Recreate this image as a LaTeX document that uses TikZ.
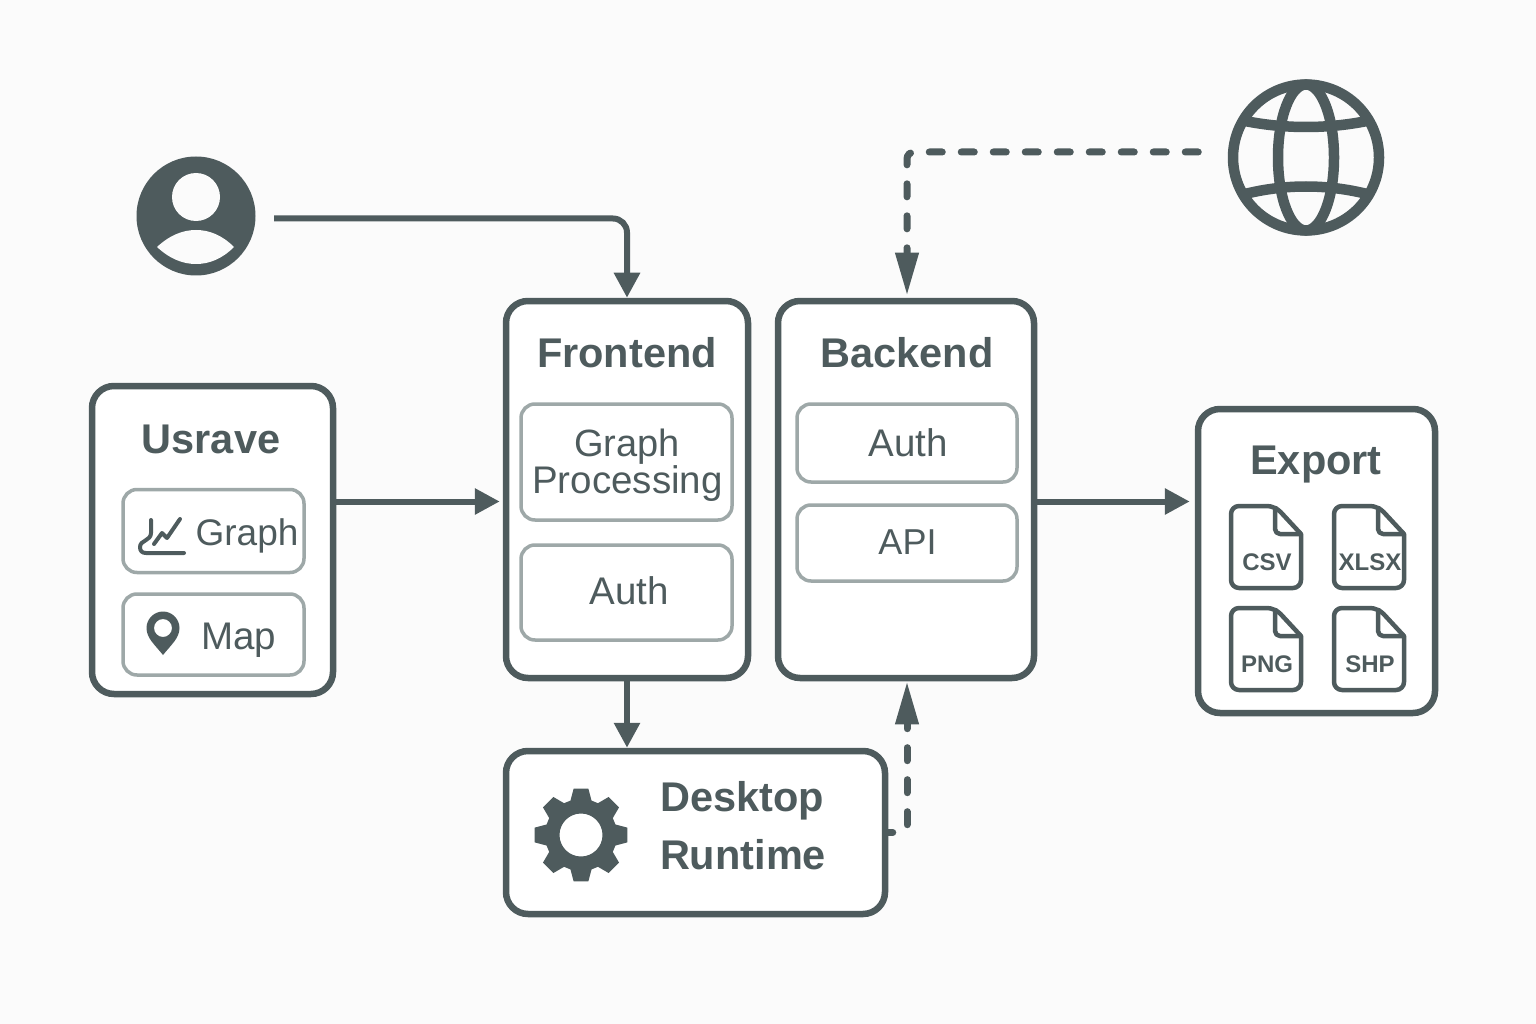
\documentclass[tikz,border=0pt]{standalone}
\usepackage{fontspec}
\setmainfont{Liberation Sans}
\usetikzlibrary{arrows.meta,calc}
\definecolor{slate}{HTML}{4E5B5D}
\definecolor{ash}{HTML}{9EA8A8}
\definecolor{paper}{HTML}{FBFBFB}
\tikzset{
  panel/.style={draw=slate,line width=6.5pt,fill=white,rounded corners=22pt,inner sep=0pt},
  subbox/.style={draw=ash,line width=3.5pt,fill=white,rounded corners=14pt,inner sep=0pt},
  flow/.style={draw=slate,line width=6pt,-{Triangle[length=25pt,width=25pt]},rounded corners=14pt},
  dashflow/.style={draw=slate,line width=7pt,line cap=round,dash pattern=on 13pt off 19pt,
    -{Triangle[length=43pt,width=22pt,line cap=butt]},rounded corners=7pt},
  headtxt/.style={anchor=base,text=slate,font=\fontsize{41.5}{41.5}\selectfont\bfseries},
  boxtxt/.style={anchor=base,text=slate,font=\fontsize{38.5}{38.5}\selectfont},
  filetxt/.style={anchor=base,text=slate,font=\fontsize{24}{24}\selectfont\bfseries},
}
\begin{document}
\begin{tikzpicture}[x=1pt,y=-1pt]
  \useasboundingbox[fill=paper] (0,0) rectangle (1536,1024);

  \node[panel,minimum width=241pt,minimum height=308pt] (usrave) at (212.5,540) {};
  \node[panel,minimum width=242pt,minimum height=377pt] (frontend) at (627,489.5) {};
  \node[panel,minimum width=256pt,minimum height=377pt] (backend) at (906,489.5) {};
  \node[panel,minimum width=237pt,minimum height=304pt] (export) at (1316.5,561) {};
  \node[panel,minimum width=379pt,minimum height=163pt] (desktop) at (695.5,832.5) {};

  \node[subbox,minimum width=181pt,minimum height=83pt] (graphbox) at (213.5,531) {};
  \node[subbox,minimum width=181pt,minimum height=81pt] (mapbox) at (213.5,634.5) {};
  \node[subbox,minimum width=211pt,minimum height=116pt] (procbox) at (626.5,462) {};
  \node[subbox,minimum width=211pt,minimum height=95pt] (fauthbox) at (626.5,592.5) {};
  \node[subbox,minimum width=220pt,minimum height=78pt] (bauthbox) at (907,443) {};
  \node[subbox,minimum width=220pt,minimum height=76pt] (apibox) at (907,543) {};

  \node[headtxt] (usravetxt) at (211,453) {Usrave};
  \node[headtxt] (frontendtxt) at (627,367.5) {Frontend};
  \node[headtxt] (backendtxt) at (907,367.5) {Backend};
  \node[headtxt] (exporttxt) at (1316,474) {Export};
  \node[headtxt] (desktoptxt) at (742,811.5) {Desktop};
  \node[headtxt] (runtimetxt) at (743,869) {Runtime};

  \node[boxtxt,font=\fontsize{37}{37}\selectfont] (graphtxt) at (247,545.5) {Graph};
  \node[boxtxt] (maptxt) at (238.5,649.5) {Map};
  \node[boxtxt,font=\fontsize{38}{38}\selectfont] (proctxta) at (627,456.5) {Graph};
  \node[boxtxt] (proctxtb) at (627.5,493) {Processing};
  \node[boxtxt] (fauthtxt) at (629,604) {Auth};
  \node[boxtxt] (bauthtxt) at (908,456.5) {Auth};
  \node[boxtxt,font=\fontsize{36}{36}\selectfont] (apitxt) at (907.5,554.5) {API};

  % chart and pin
  \draw[slate,line width=4pt,line cap=round,line join=round]
    (151,520) -- (151,533) .. controls (151,541) and (140,540) .. (140,547)
    .. controls (140,551) and (142,553) .. (146,553) -- (184,553);
  \draw[slate,line width=4pt,line cap=round,line join=round]
    (154,544) -- (162,533) -- (167,538) -- (180,519);
  \fill[slate,even odd rule] (146.5,628) .. controls (146.5,619) and (154,611.5) .. (163,611.5)
    .. controls (172,611.5) and (179.5,619) .. (179.5,628)
    .. controls (179.5,638) and (171,645) .. (163,655)
    .. controls (155,645) and (146.5,638) .. (146.5,628) -- cycle
    (163,628) circle (9);

  % gear
  \begin{scope}[shift={(581,835)}]
    \fill[slate,even odd rule] (-17:36)
      \foreach \a in {0,45,...,315}{ -- (\a-17:36) -- (\a-9:47) -- (\a+9:47) -- (\a+17:36)}
      -- cycle (0,0) circle (21.5);
  \end{scope}

  % files
  \foreach \fx/\fy/\lab in {1229/504/CSV,1332/504/XLSX,1229/606/PNG,1332/606/SHP}{
    \begin{scope}[shift={(\fx,\fy)}]
      \draw[slate,line width=4.5pt,fill=white,line join=round,rounded corners=8pt]
        (2,2) -- (46,2) [sharp corners] -- (72,30) [rounded corners=8pt] -- (72,84) -- (2,84) -- cycle;
      \draw[slate,line width=4.5pt,line join=round,rounded corners=5pt] (46,2) -- (46,30) -- (72,30);
      \node[filetxt] (file\lab) at (38,66) {\lab};
    \end{scope}
  }

  % user
  \node[circle,fill=slate,minimum size=119pt,inner sep=0pt] (user) at (196,216) {};
  \fill[paper] (196,197) circle (24);
  \fill[paper] (157,247) .. controls (170,235) and (183,230) .. (196,230)
    .. controls (209,230) and (222,235) .. (234,247)
    .. controls (222,259) and (209,264) .. (196,264)
    .. controls (183,264) and (170,259) .. (157,247) -- cycle;

  % globe
  \node[circle,draw=slate,line width=10.5pt,minimum size=146pt,inner sep=0pt] (globe) at (1306,157.5) {};
  \draw[slate,line width=10.5pt] (globe.center) ellipse (28 and 73);
  \draw[slate,line width=10.5pt] (1245,121) .. controls (1285,129) and (1327,129) .. (1367,121);
  \draw[slate,line width=10.5pt] (1245,194) .. controls (1285,184) and (1327,184) .. (1367,194);

  \draw[flow] ([shift={(18.5pt,-2.5pt)}]user.east) -| (frontend.north);
  \draw[dashflow,shorten >=2pt] ([shift={(-29.5pt,5.5pt)}]globe.west) -| ([xshift=1pt]backend.north);
  \draw[flow,shorten >=3pt] ([yshift=38.5pt]usrave.east) -- ([yshift=-12pt]frontend.west);
  \draw[flow] (frontend.south) -- (frontend.south |- desktop.north);
  \draw[flow,shorten >=5pt] ([yshift=-12pt]backend.east) -- ([yshift=-12pt]backend.east -| export.west);
  \draw[dashflow,shorten >=0pt,dash phase=8.5pt] (desktop.east) -| ([xshift=1pt]backend.south);
\end{tikzpicture}
\end{document}
